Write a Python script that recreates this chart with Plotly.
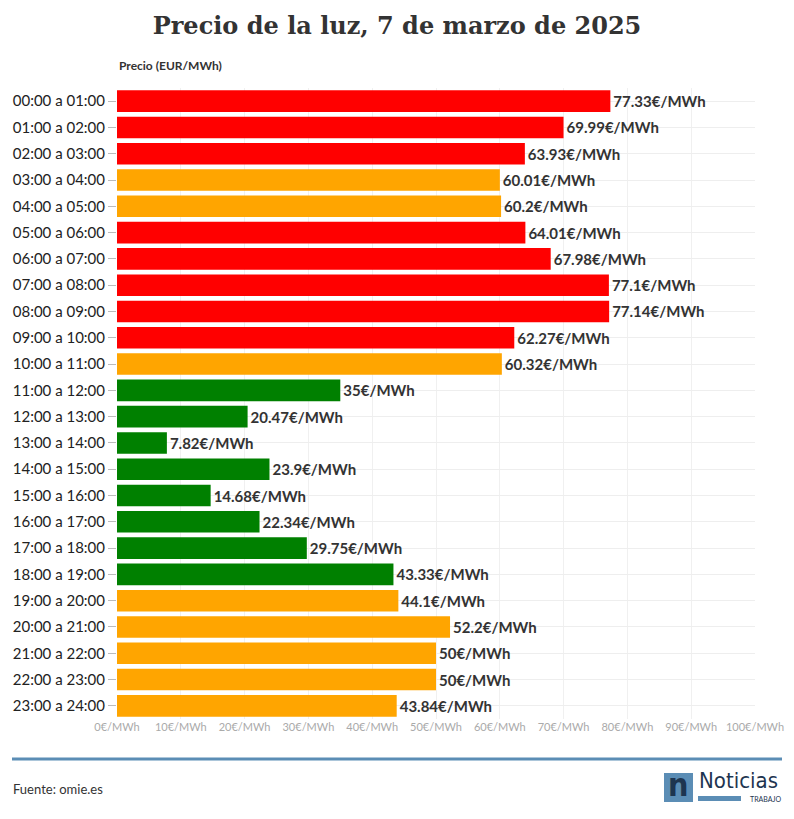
import plotly.graph_objects as go

hours = [f"{h:02d}:00 a {h+1:02d}:00" for h in range(24)]
prices = [77.33, 69.99, 63.93, 60.01, 60.2, 64.01, 67.98, 77.1, 77.14, 62.27, 60.32, 35,
          20.47, 7.82, 23.9, 14.68, 22.34, 29.75, 43.33, 44.1, 52.2, 50, 50, 43.84]
colors = ["#ff0000"]*3 + ["#ffa500"]*2 + ["#ff0000"]*5 + ["#ffa500"] + ["#008000"]*8 + ["#ffa500"]*5
labels = [f"{p:g}€/MWh" for p in prices]

# page body has an 8px margin: figure is 778x803, offset 8px
W, H = 778, 803
fig = go.Figure(go.Bar(
    y=hours, x=prices, orientation="h", marker=dict(color=colors, line=dict(width=0)),
    text=labels, textposition="outside", cliponaxis=False,
    textfont=dict(family="Lato", size=15, color="#333333"), width=0.82))
fig.update_traces(texttemplate="<b>%{text}</b>")

fig.update_layout(
    width=W, height=H, margin=dict(l=109, r=31, t=80, b=92, autoexpand=False),
    paper_bgcolor="white", plot_bgcolor="white", showlegend=False,
    font=dict(family="Lato", color="#222"),
    title=dict(text="<b>Precio de la luz, 7 de marzo de 2025</b>", x=(397-8)/W, xanchor="center",
               y=1-(18/H), yanchor="middle", font=dict(family="DejaVu Serif", size=24, color="#333")),
    xaxis=dict(range=[0, 100], dtick=10, ticksuffix="€/MWh", tickfont=dict(size=11, color="#aaaaaa"),
               showgrid=True, gridcolor="#f0f0f0", zeroline=False, fixedrange=True),
    yaxis=dict(autorange="reversed", tickfont=dict(size=15, color="#222"), ticks="outside",
               ticklen=8, tickcolor="#bbbbbb", showgrid=True, gridcolor="#eeeeee"),
    bargap=0.18,
)
fig.add_annotation(text="<b>Precio (EUR/MWh)</b>", xref="paper", yref="paper", x=0, y=1.02,
                   xanchor="left", yanchor="bottom", showarrow=False,
                   font=dict(size=12, color="#333"))
px = lambda x: (x-117)/638
py = lambda y: (719-y)/631
fig.add_shape(type="line", xref="paper", yref="paper", x0=px(12), x1=px(782),
              y0=py(759), y1=py(759), line=dict(color="#5b8db5", width=3))
fig.add_annotation(text="Fuente: omie.es", xref="paper", yref="paper", x=px(11), y=py(789),
                   xanchor="left", yanchor="middle", showarrow=False, font=dict(size=13, color="#333"))
# logo
fig.add_shape(type="rect", xref="paper", yref="paper", x0=px(664), x1=px(693), y0=py(802), y1=py(773),
              fillcolor="#5b8db5", line=dict(width=0))
fig.add_annotation(text="<b>n</b>", xref="paper", yref="paper", x=px(678.5), y=py(785),
                   xanchor="center", yanchor="middle", showarrow=False,
                   font=dict(size=32, color="#1e3550", family="DejaVu Sans Condensed"))
fig.add_annotation(text="Noticias", xref="paper", yref="paper", x=px(697), y=py(780),
                   xanchor="left", yanchor="middle", showarrow=False,
                   font=dict(size=22, color="#1e3550", family="DejaVu Sans Condensed"))
fig.add_shape(type="rect", xref="paper", yref="paper", x0=px(698), x1=px(741), y0=py(801), y1=py(796),
              fillcolor="#5b8db5", line=dict(width=0))
fig.add_annotation(text="TRABAJO", xref="paper", yref="paper", x=px(783), y=py(799),
                   xanchor="right", yanchor="middle", showarrow=False, font=dict(size=7, color="#1e3550"))
fig.write_html("out.html")
